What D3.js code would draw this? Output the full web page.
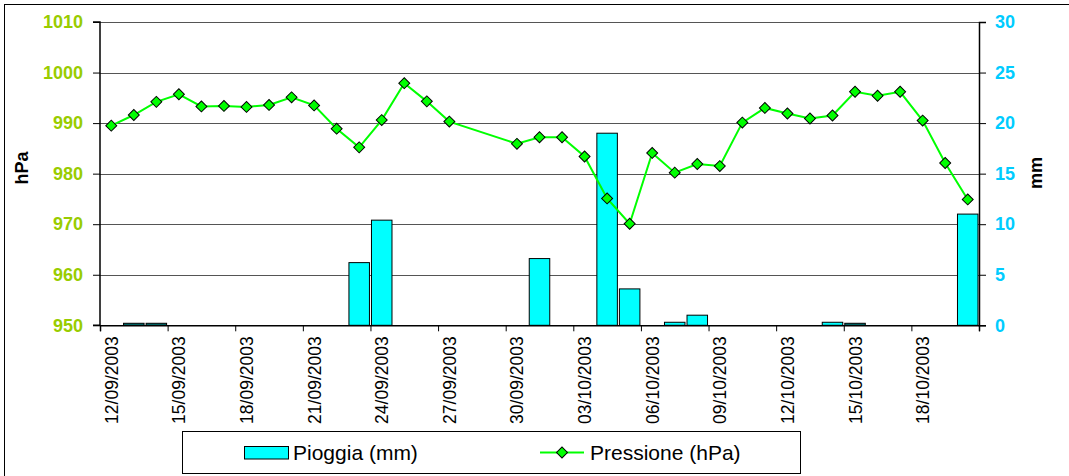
<!DOCTYPE html>
<html><head><meta charset="utf-8">
<script src="https://cdn.jsdelivr.net/npm/d3@7"></script>
<style>
html,body{margin:0;padding:0;background:#fff;}
svg{display:block;font-family:Arial,"Liberation Sans",sans-serif;}
</style></head>
<body>
<svg id="c" width="1069" height="476"></svg>
<script>
// ---- data ----
const dates = ["12/09/2003","13/09/2003","14/09/2003","15/09/2003","16/09/2003","17/09/2003","18/09/2003","19/09/2003","20/09/2003","21/09/2003","22/09/2003","23/09/2003","24/09/2003","25/09/2003","26/09/2003","27/09/2003","28/09/2003","29/09/2003","30/09/2003","01/10/2003","02/10/2003","03/10/2003","04/10/2003","05/10/2003","06/10/2003","07/10/2003","08/10/2003","09/10/2003","10/10/2003","11/10/2003","12/10/2003","13/10/2003","14/10/2003","15/10/2003","16/10/2003","17/10/2003","18/10/2003","19/10/2003","20/10/2003"];
const pioggia = [0,0.2,0.2,0,0,0,0,0,0,0,0,6.2,10.4,0,0,0,0,0,0,6.6,0,0,19.0,3.6,0,0.3,1.0,0,0,0,0,0,0.3,0.2,0,0,0,0,11.0];
const pressione = [989.5,991.6,994.2,995.7,993.3,993.4,993.2,993.6,995.1,993.5,988.9,985.2,990.6,997.9,994.3,990.3,null,null,985.9,987.2,987.2,983.4,975.1,970.1,984.1,980.2,981.9,981.5,990.1,993.0,991.9,990.9,991.5,996.2,995.4,996.2,990.5,982.1,974.9];
const leftTicks = [950,960,970,980,990,1000,1010];
const rightTicks = [0,5,10,15,20,25,30];
const seriesNames = ["Pioggia (mm)","Pressione (hPa)"];

// ---- layout ----
const L = 100, R = 979, T = 22, B = 325.3;
const svg = d3.select("#c");
svg.append("rect").attr("x",4.5).attr("y",4.5).attr("width",1200).attr("height",600)
  .attr("fill","#fff").attr("stroke","#000").attr("stroke-width",1);

const xb = d3.scaleBand().domain(dates).range([L,R]).paddingInner(0.09).paddingOuter(0.045);
const xl = d3.scaleLinear().domain([0,dates.length]).range([L,R]);
const yP = d3.scaleLinear().domain([950,1010]).range([B,T]);
const yR = d3.scaleLinear().domain([0,30]).range([B,T]);

// gridlines
svg.append("g").selectAll("line").data(leftTicks).join("line")
  .attr("x1",L).attr("x2",R).attr("y1",d=>Math.round(yP(d))+0.5).attr("y2",d=>Math.round(yP(d))+0.5)
  .attr("stroke","#555").attr("stroke-width",1);

// bars
svg.append("g").selectAll("rect").data(pioggia.map((v,i)=>({d:dates[i],v})).filter(o=>o.v>0)).join("rect")
  .attr("x",o=>xb(o.d)).attr("width",xb.bandwidth())
  .attr("y",o=>yR(o.v)).attr("height",o=>B-yR(o.v))
  .attr("fill",o=>o.v<0.25?"#007878":"#00FFFF").attr("stroke","#000").attr("stroke-width",1);

// line
const pts = pressione.map((v,i)=>({d:dates[i],v})).filter(o=>o.v!==null);
const cx = d=>xb(d)+xb.bandwidth()/2;
svg.append("path").datum(pts)
  .attr("d",d3.line().x(o=>cx(o.d)).y(o=>yP(o.v)))
  .attr("fill","none").attr("stroke","#00FF00").attr("stroke-width",2);
const dia = d3.symbol().type(d3.symbolSquare).size(60);
svg.append("g").selectAll("path").data(pts).join("path")
  .attr("d",dia())
  .attr("transform",o=>`translate(${cx(o.d)},${yP(o.v)}) rotate(45)`)
  .attr("fill","#00FF00").attr("stroke","#000").attr("stroke-width",1);

// left axis
const ga = svg.append("g").attr("transform",`translate(${L},0)`)
  .call(d3.axisLeft(yP).tickValues(leftTicks).tickSize(7).tickPadding(10).tickFormat(d3.format("d")));
ga.select(".domain").attr("stroke","#000").attr("d",`M-7,${yP(1010)}H0V${B}H-7`).attr("stroke-width",1.5);
ga.selectAll("text").attr("fill","#99CC00").attr("font-size",18).attr("font-weight","bold").attr("font-family",'Arial,"Liberation Sans",sans-serif');
ga.selectAll(".tick line").attr("stroke","#000");

// right axis
const gr = svg.append("g").attr("transform",`translate(${R},0)`)
  .call(d3.axisRight(yR).tickValues(rightTicks).tickSize(7).tickPadding(9));
gr.select(".domain").attr("stroke","#000").attr("stroke-width",1.5);
gr.selectAll("text").attr("fill","#00CCFF").attr("font-size",18).attr("font-weight","bold").attr("font-family",'Arial,"Liberation Sans",sans-serif');
gr.selectAll(".tick line").attr("stroke","#000");

// bottom axis: tick marks at every 3rd day boundary
const tickIdx = d3.range(0,dates.length+1,3);
const gb = svg.append("g").attr("transform",`translate(0,${B})`)
  .call(d3.axisBottom(xl).tickValues(tickIdx).tickSize(6).tickFormat(""));
gb.select(".domain").attr("stroke","#000").attr("stroke-width",1.5);
gb.selectAll(".tick line").attr("stroke","#000");

// bottom labels
const labelDates = dates.filter((d,i)=>i%3===0);
svg.append("g").selectAll("text").data(labelDates).join("text")
  .attr("transform",d=>`translate(${cx(d)+6.5},${B+11}) rotate(-90)`)
  .attr("text-anchor","end").attr("font-size",17.5).attr("fill","#000")
  .text(d=>d);

// axis titles
svg.append("text").attr("transform","translate(28,168) rotate(-90)").attr("text-anchor","middle")
  .attr("font-size",18).attr("font-weight","bold").text("hPa");
svg.append("text").attr("transform","translate(1042,173) rotate(-90)").attr("text-anchor","middle")
  .attr("font-size",18).attr("font-weight","bold").text("mm");

// legend
const lg = svg.append("g");
lg.append("rect").attr("x",182.5).attr("y",431.5).attr("width",618).attr("height",42)
  .attr("fill","#fff").attr("stroke","#000").attr("stroke-width",1);
lg.append("rect").attr("x",244.5).attr("y",446.5).attr("width",44).attr("height",12.5)
  .attr("fill","#00FFFF").attr("stroke","#000").attr("stroke-width",1);
lg.append("text").attr("x",293).attr("y",460).attr("font-size",21).text(seriesNames[0]);
lg.append("line").attr("x1",540).attr("x2",584).attr("y1",452.5).attr("y2",452.5)
  .attr("stroke","#00FF00").attr("stroke-width",2);
lg.append("path").attr("d",dia()).attr("transform","translate(562,452.5) rotate(45)")
  .attr("fill","#00FF00").attr("stroke","#000").attr("stroke-width",1);
lg.append("text").attr("x",590).attr("y",460).attr("font-size",21).text(seriesNames[1]);
</script>
</body></html>
